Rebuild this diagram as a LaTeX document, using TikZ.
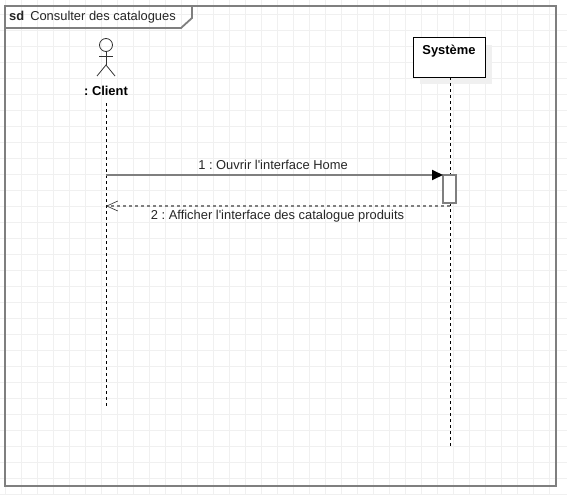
\documentclass[tikz,border=0pt]{standalone}
\usepackage{fontspec}
\setmainfont{Liberation Sans}
\usetikzlibrary{arrows.meta}
\definecolor{framegray}{HTML}{7F7F7F}
\definecolor{gridgray}{HTML}{F0F0F0}
\definecolor{shadowgray}{HTML}{F0F0F0}
\tikzset{
  frameline/.style={draw=framegray, line width=1.8pt},
  lifeline/.style={draw=black, line width=1pt, dash pattern=on 3.2pt off 2.8pt},
  actorline/.style={draw=black!80, line width=0.8pt},
  msglabel/.style={inner sep=0pt, font=\fontsize{12.9}{15}\selectfont\frenchspacing, text=black!85},
  boldlabel/.style={inner sep=0pt, font=\fontsize{12.9}{15}\selectfont\frenchspacing\bfseries},
}
\begin{document}
\begin{tikzpicture}[x=1pt,y=-1pt]
\useasboundingbox (0,0) rectangle (567,495);
\fill[white] (0,0) rectangle (567,495);
% grid
\foreach \gx in {0,...,34} \draw[gridgray, line width=1pt] (5.5+16*\gx,0) -- (5.5+16*\gx,495);
\foreach \gy in {0,...,30} \draw[gridgray, line width=1pt] (0,14.5+16*\gy) -- (567,14.5+16*\gy);
% frame
\node[frameline, rectangle, minimum width=551pt, minimum height=480pt, inner sep=0pt, outer sep=0pt] (frame) at (280.5,246) {};
\node[msglabel, anchor=west] (sdlabel) at (9,17) {\textbf{sd}\hspace{6pt}Consulter des catalogues};
\draw[frameline] (frame.north west) -- (192,6) -- (192,18) -- (181,28) -- (5,28);
% client
\node[actorline, circle, minimum size=13pt, inner sep=0pt, outer sep=0pt] (head) at (106,45) {};
\coordinate (hip) at (106,65);
\coordinate (armL) at (99,56);
\coordinate (armR) at (113,56);
\coordinate (legL) at (97,76);
\coordinate (legR) at (115,76);
\draw[actorline] (head) -- (hip);
\draw[actorline] (armL) -- (armR);
\draw[actorline] (legL) -- (hip) -- (legR);
\node[boldlabel] (client) at (106,91) {: Client};
% systeme
\fill[shadowgray] (420,45) rectangle (492,84);
\node[draw=black, fill=white, line width=1pt, rectangle, minimum width=72pt, minimum height=39pt, inner sep=0pt, outer sep=0pt] (systeme) at (449,57.5) {};
\node[boldlabel] (systemelabel) at (449,51) {Système};
% lifelines
\coordinate (clientend) at (106,406);
\coordinate (systemeend) at (450,446);
\coordinate (clienttop) at (106,103);
\coordinate (systemetop) at (450,77);
\draw[lifeline] (clienttop) -- (clientend);
\draw[lifeline] (systemetop) -- (systemeend);
% activation
\node[frameline, fill=white, rectangle, minimum width=13pt, minimum height=28pt, inner sep=0pt, outer sep=0pt] (activation) at (449.5,189) {};
% messages
\coordinate (m1) at (106,175);
\coordinate (m2) at (106,206);
\coordinate (m2s) at (450,206);
\draw[frameline, -{Triangle[black,length=11pt,width=10pt]}] (m1) -- (activation.north west);
\draw[frameline, dash pattern=on 3pt off 3pt, -{Straight Barb[black!75,length=11pt,width=10pt,line width=0.7pt]}] (m2s) -- (m2);
\node[msglabel] (m1label) at (273,164.5) {1 : Ouvrir l\textquotesingle interface Home};
\node[msglabel] (m2label) at (277.5,216.5) {2 : Afficher l\textquotesingle interface des catalogue produits};
\end{tikzpicture}
\end{document}
